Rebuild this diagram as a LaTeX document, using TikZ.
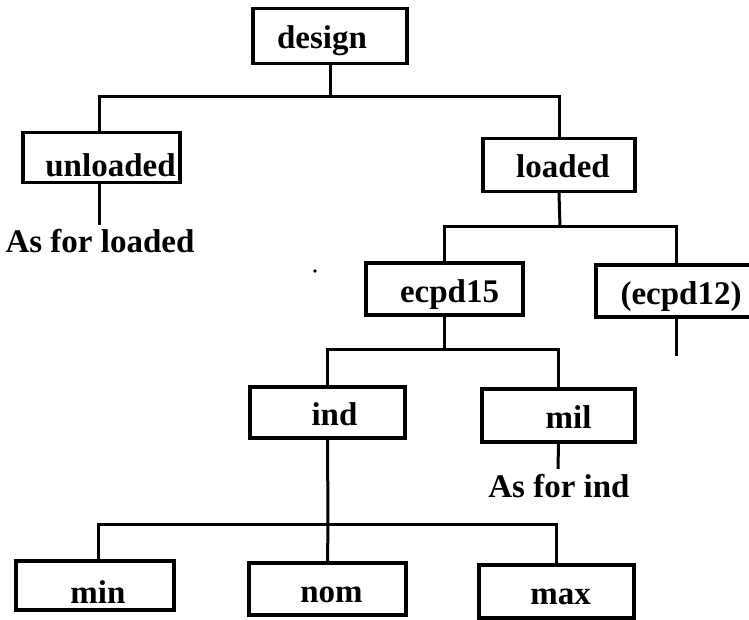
\documentclass[tikz,border=0pt]{standalone}
\usepackage{fontspec}
\setmainfont{Liberation Serif}
\begin{document}
\begin{tikzpicture}[x=1pt,y=-1pt,
  every node/.style={font=\fontsize{33}{38}\selectfont\bfseries},
  box/.style={draw, line width=3.4pt, inner sep=0pt, text height=30pt, text depth=4pt, align=center},
  low/.style={text height=40pt, text depth=2pt},
  lowish/.style={text height=37pt, text depth=2pt},
  conn/.style={line width=3pt},
  plain/.style={inner sep=0pt, text height=22pt, text depth=7pt}]
\useasboundingbox (0,0) rectangle (749,620);
\clip (0,0) rectangle (749,620);
% boxes
\node[box, minimum width=154pt, minimum height=55pt] (design) at (330,36) {\hspace*{-16pt}design};
\node[box, low, minimum width=157pt, minimum height=50pt] (unloaded) at (101.5,157.5) {\hspace*{18pt}unloaded};
\node[box, minimum width=152pt, minimum height=53pt] (loaded) at (559,165) {\hspace*{8pt}loaded};
\node[box, minimum width=157pt, minimum height=52pt] (ecpd15) at (444.5,289) {\hspace*{10pt}ecpd15};
\node[box, minimum width=164pt, minimum height=52pt] (ecpd12) at (678,291) {\hspace*{6pt}(ecpd12)};
\node[box, minimum width=155pt, minimum height=51pt] (ind) at (327.5,412.5) {\hspace*{14pt}ind};
\node[box, minimum width=153pt, minimum height=53pt] (mil) at (558.5,415.5) {\hspace*{20pt}mil};
\node[box, lowish, minimum width=158pt, minimum height=49pt] (min) at (95,585.5) {\hspace*{6pt}min};
\node[box, minimum width=157pt, minimum height=52pt] (nom) at (327.5,589) {\hspace*{8pt}nom};
\node[box, minimum width=155pt, minimum height=53pt] (max) at (556.5,591.5) {\hspace*{8pt}max};
% free text
\node[plain, anchor=base] (asloaded) at (100,252) {As for loaded};
\node[plain, anchor=base] (asind) at (559,497) {As for ind};
% junctions
\coordinate (j1) at (330,97);
\coordinate (j2) at (560,227);
\coordinate (j3) at (444.5,349);
\coordinate (j4) at (328,524);
\coordinate (e12end) at (676,356);
% connectors
\draw[conn] (design.south) -- (j1);
\draw[conn] ([xshift=-2.5pt]unloaded.north) |- (j1) -| (loaded.north);
\draw[conn] ([xshift=-2.5pt]unloaded.south) -- ([xshift=-1pt,yshift=5pt]asloaded.north);
\draw[conn] (loaded.south) -- (j2);
\draw[conn] (ecpd15.north) |- (j2) -| ([xshift=-2pt]ecpd12.north);
\draw[conn] ([xshift=-2pt]ecpd12.south) -- ([xshift=-2pt]ecpd12.south |- e12end);
\draw[conn] (ecpd15.south) -- (j3);
\draw[conn] (ind.north) |- (j3) -| (mil.north);
\draw[conn] (mil.south) -- ([xshift=-1pt,yshift=6pt]asind.north);
\draw[conn] (ind.south) -- (j4);
\draw[conn] ([xshift=3pt]min.north) |- (j4) -| (max.north);
\draw[conn] (j4) -- (nom.north);
% specks
\fill (315,271) circle (1.8pt);
\end{tikzpicture}
\end{document}
